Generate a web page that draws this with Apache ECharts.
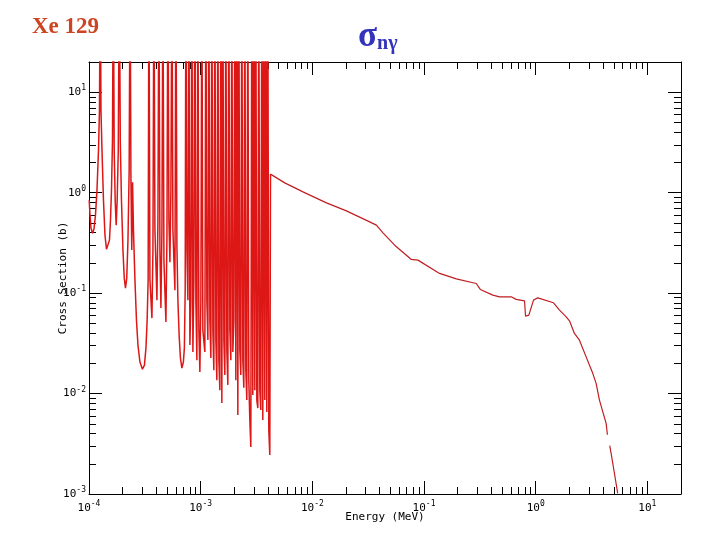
<!DOCTYPE html>
<html>
<head>
    <meta charset="utf-8">
    <title>Xe 129 n-gamma</title>
    <script src="https://cdn.jsdelivr.net/npm/echarts@6/dist/echarts.min.js"></script>
</head>
<body style="margin:0px;">
    <div id="main" style="width: 720px;height:540px;"></div>
    <script type="text/javascript">
    // resolved resonance region (MeV, barns); 200 b = peak running off the top
    var resE = [
        1.004e-4, 1.021e-4, 1.042e-4, 1.075e-4, 1.108e-4, 1.143e-4, 1.179e-4, 1.216e-4, 1.241e-4, 1.262e-4,
        1.280e-4, 1.307e-4, 1.348e-4, 1.390e-4, 1.434e-4, 1.479e-4, 1.525e-4, 1.557e-4, 1.590e-4, 1.623e-4,
        1.650e-4, 1.681e-4, 1.716e-4, 1.751e-4, 1.788e-4, 1.829e-4, 1.867e-4, 1.906e-4, 1.953e-4, 2.014e-4,
        2.069e-4, 2.121e-4, 2.178e-4, 2.233e-4, 2.289e-4, 2.332e-4, 2.375e-4, 2.415e-4, 2.455e-4, 2.501e-4,
        2.579e-4, 2.660e-4, 2.744e-4, 2.858e-4, 3.010e-4, 3.137e-4, 3.236e-4, 3.316e-4, 3.385e-4, 3.441e-4,
        3.513e-4, 3.660e-4, 3.737e-4, 3.814e-4, 3.894e-4, 4.058e-4, 4.142e-4, 4.228e-4,
        4.316e-4, 4.406e-4, 4.498e-4, 4.591e-4, 4.687e-4, 4.884e-4, 4.986e-4, 5.090e-4, 5.195e-4, 5.304e-4,
        5.414e-4, 5.527e-4, 5.641e-4, 5.879e-4, 6.001e-4, 6.126e-4, 6.253e-4, 6.412e-4, 6.586e-4, 6.788e-4,
        7.001e-4, 7.147e-4, 7.266e-4, 7.372e-4, 7.525e-4, 7.682e-4, 7.842e-4, 8.005e-4, 8.172e-4, 8.342e-4,
        8.515e-4, 8.692e-4,
        8.873e-4, 9.058e-4, 9.247e-4, 9.441e-4, 9.636e-4, 9.836e-4, 1.004e-3, 1.025e-3, 1.046e-3, 1.090e-3,
        1.113e-3, 1.136e-3, 1.160e-3, 1.184e-3, 1.209e-3, 1.234e-3, 1.259e-3, 1.286e-3, 1.312e-3, 1.340e-3,
        1.368e-3, 1.396e-3, 1.425e-3, 1.455e-3, 1.485e-3, 1.516e-3, 1.547e-3, 1.580e-3, 1.613e-3, 1.646e-3,
        1.680e-3, 1.715e-3, 1.751e-3, 1.787e-3, 1.825e-3, 1.863e-3, 1.901e-3, 1.941e-3, 1.982e-3, 2.023e-3,
        2.065e-3, 2.108e-3, 2.151e-3, 2.196e-3, 2.242e-3, 2.288e-3, 2.336e-3, 2.385e-3, 2.434e-3, 2.485e-3,
        2.537e-3, 2.589e-3, 2.643e-3, 2.698e-3, 2.755e-3, 2.812e-3, 2.871e-3, 2.930e-3, 2.991e-3, 3.053e-3,
        3.117e-3, 3.182e-3, 3.248e-3, 3.315e-3, 3.384e-3, 3.455e-3, 3.527e-3, 3.600e-3, 3.675e-3, 3.751e-3,
        3.830e-3, 3.909e-3, 3.991e-3, 4.074e-3, 4.159e-3
    ];
    var resXS = [
        0.842, 0.597, 0.443, 0.395, 0.434, 0.597, 1.06, 2.65, 6.62, 200,
        6.62, 2.65, 0.842, 0.377, 0.274, 0.262, 0.337, 0.532, 1.06, 3.33,
        200, 2.65, 0.842, 0.475, 0.842, 2.65, 200, 3.33, 0.842, 0.268,
        0.141, 0.112, 0.141, 0.337, 1.675, 200, 1.33, 0.268, 1.27, 0.424,
        0.135, 0.0539, 0.0304, 0.0206, 0.0175, 0.0192, 0.0285, 0.0539, 0.135, 200,
        0.135, 0.0564, 0.268, 200, 0.424, 0.0851, 0.532, 200,
        0.268, 0.0710, 0.424, 200, 0.213, 0.0515, 0.337, 200, 0.532, 0.203,
        1.06, 200, 0.424, 0.107, 200, 0.301, 0.0851, 0.0382, 0.0226, 0.0179,
        0.0206, 0.0285, 0.107, 200, 0.268, 0.0851, 200, 0.0304, 0.0851, 200,
        0.0259, 0.135,
        200, 0.0851, 0.0215, 200, 0.0428, 0.0164, 0.0851, 200, 0.0428, 0.0259,
        200, 0.0851, 0.0341, 200, 0.0539, 0.0226, 200, 0.0428, 0.0171, 200,
        0.0341, 0.0136, 200, 0.0215, 0.0108, 200, 0.00804, 200, 0.0341, 0.0153,
        200, 0.0271, 0.0122, 200, 0.0428, 0.0215, 200, 0.0259, 0.0539, 200,
        0.0136, 200, 0.00611, 200, 0.0271, 0.0153, 200, 0.0215, 0.0114, 200,
        0.0171, 0.00861, 200, 0.0136, 0.00545, 0.00294, 200, 0.00966, 200, 0.0108,
        200, 0.00861, 0.00717, 200, 0.0108, 0.00685, 200, 0.00545, 200, 0.00861,
        200, 0.00654, 200, 0.00433, 0.00245
    ];
    // smooth part above the resonances (null = gap in the curve)
    var hiE = [
        4.22e-3, 5.66e-3, 8.25e-3, 0.01337, 0.02018, 0.0326, 0.03744, 0.0429, 0.0546, 0.0770,
        0.0882, 0.1378, 0.1945, 0.2936, 0.3190, 0.4134, 0.4746, 0.6038, 0.669, 0.794,
        0.811, 0.868, 0.956, 1.044, 1.443, 1.633, 1.875, 2.006, 2.223, 2.465,
        2.829, 3.241, 3.475, 3.722, 4.272, 4.385, 4.49, 4.60, 4.735, 5.068, 5.424
    ];
    var hiXS = [
        1.53, 1.252, 1.018, 0.792, 0.659, 0.512, 0.475, 0.398, 0.300, 0.2164,
        0.2130, 0.157, 0.1388, 0.1247, 0.1088, 0.0955, 0.0919, 0.0919, 0.0866, 0.0838,
        0.0590, 0.0604, 0.0852, 0.0898, 0.0801, 0.0677, 0.0581, 0.0530, 0.0397, 0.0340,
        0.0232, 0.0159, 0.01264, 0.00861, 0.00505, 0.00389, null, 0.00303, 0.00254, 0.00161, 0.001016
    ];
    var xDecades = [1e-4, 1e-3, 1e-2, 1e-1, 1, 10];
    var xTickLabels = ['-4', '-3', '-2', '-1', '0', '1'];
    var yDecades = [1e-3, 1e-2, 1e-1, 1, 10];
    var yTickLabels = ['-3', '-2', '-1', '0', '1'];
    </script>
    <script type="text/javascript">
        var myChart = echarts.init(document.getElementById('main'));

        // resonance part runs up to the first point of the smooth part
        var resData = [];
        for (var i = 0; i < resE.length; i++) resData.push([resE[i], resXS[i]]);
        resData.push([hiE[0], hiXS[0]]);
        var hiData = [];
        for (var j = 0; j < hiE.length; j++) hiData.push([hiE[j], hiXS[j]]);

        function decadeLabel(vals, labels) {
            return function (v) {
                for (var k = 0; k < vals.length; k++) {
                    if (Math.abs(Math.log10(v) - Math.log10(vals[k])) < 1e-6) {
                        return '{b|10}{s|' + labels[k] + '}';
                    }
                }
                return '';
            };
        }

        var mono = 'DejaVu Sans Mono';
        var rich = {
            b: {fontFamily: mono, fontSize: 11, color: '#000'},
            s: {fontFamily: mono, fontSize: 8, color: '#000', padding: [0, 0, 8, 0]}
        };

        function logAxis(extra) {
            var a = {
                type: 'log',
                logBase: 10,
                axisLine: {show: true, onZero: false, lineStyle: {color: '#000', width: 1}},
                axisTick: {show: true, inside: true, length: 13, lineStyle: {color: '#000'}},
                minorTick: {show: true, splitNumber: 9, length: 7, lineStyle: {color: '#000'}},
                splitLine: {show: false},
                minorSplitLine: {show: false},
                axisLabel: {show: false}
            };
            for (var k in extra) a[k] = extra[k];
            return a;
        }

        myChart.setOption({
            animation: false,
            title: [{
                text: 'Xe 129',
                left: 27,
                top: 11,
                textStyle: {fontFamily: 'Liberation Serif', fontWeight: 'bold', fontSize: 23, color: '#cc4422'}
            }, {
                text: '{a|σ}{n|nγ}',
                left: 353,
                top: 14,
                textStyle: {
                    rich: {
                        a: {fontFamily: 'Liberation Serif', fontWeight: 'bold', fontSize: 35, color: '#3333bb'},
                        n: {fontFamily: 'Liberation Serif', fontWeight: 'bold', fontSize: 20, color: '#3333bb', padding: [14, 0, 0, 0]}
                    }
                }
            }],
            grid: {left: 89, right: 39, top: 62, bottom: 46},
            xAxis: [
                logAxis({
                    position: 'bottom', min: 1e-4, max: 20,
                    name: 'Energy (MeV)', nameLocation: 'middle', nameGap: 18, nameMoveOverlap: false,
                    nameTextStyle: {fontFamily: mono, fontSize: 11, color: '#000'},
                    axisLabel: {show: true, margin: 6, showMaxLabel: false,
                        formatter: decadeLabel(xDecades, xTickLabels), rich: rich}
                }),
                logAxis({position: 'top', min: 1e-4, max: 20})
            ],
            yAxis: [
                logAxis({
                    position: 'left', min: 1e-3, max: 20,
                    name: 'Cross Section (b)', nameLocation: 'middle', nameGap: 20, nameRotate: 90, nameMoveOverlap: false,
                    nameTextStyle: {fontFamily: mono, fontSize: 11, color: '#000'},
                    axisLabel: {show: true, margin: 3, showMaxLabel: false,
                        formatter: decadeLabel(yDecades, yTickLabels), rich: rich}
                }),
                logAxis({position: 'right', min: 1e-3, max: 20})
            ],
            series: [{
                name: 'resonances',
                type: 'line',
                data: resData,
                showSymbol: false,
                clip: true,
                lineStyle: {color: '#dd1616', width: 1.5}
            }, {
                name: 'smooth',
                type: 'line',
                data: hiData,
                showSymbol: false,
                clip: true,
                connectNulls: false,
                lineStyle: {color: '#c01e22', width: 1.2}
            }]
        });
    </script>
</body>
</html>
